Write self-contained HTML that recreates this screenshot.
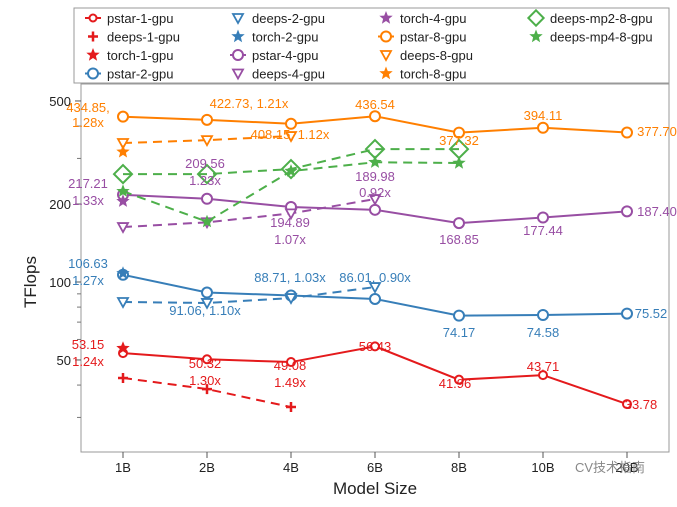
<!DOCTYPE html>
<html><head><meta charset="utf-8"><style>
body{margin:0;background:#fff;}
svg{font-family:"Liberation Sans",sans-serif;}
</style></head><body>
<svg id="chart" width="677" height="502" viewBox="0 0 677 502" xmlns="http://www.w3.org/2000/svg">
<rect x="81" y="84" width="588" height="368" fill="none" stroke="#999" stroke-width="1"/>
<g id="axes"></g><g id="series"></g><g id="labels"></g>
<text x="375" y="494" font-size="17" text-anchor="middle" fill="#222">Model Size</text>
<text transform="translate(36,282) rotate(-90)" font-size="17" text-anchor="middle" fill="#222">TFlops</text>
<g>
<rect x="74" y="8" width="595" height="75" fill="#fff" stroke="#999"/>
<g id="legend"></g>
</g>
<text x="575" y="472" font-size="13" fill="#888">CV技术指南</text>
</svg>
<script>
const categories=["1B","2B","4B","6B","8B","10B","20B"];
const yTicksMajor=[50,100,200,500];
const yTicksMinor=[30,40,60,70,80,90,300,400];
const pstar1=[53.15,50.32,49.08,56.43,41.96,43.71,33.78];
const deeps1=[42.6,38.6,32.9];
const torch1=[55.5];
const pstar2=[106.63,91.06,88.71,86.01,74.17,74.58,75.52];
const deeps2=[83.7,83,86.7,95.6];
const torch2=[108];
const pstar4=[217.21,209.56,194.89,189.98,168.85,177.44,187.40];
const deeps4=[163,170,184,209];
const torch4=[205];
const pstar8=[434.85,422.73,408.15,436.54,377.32,394.11,377.70];
const deeps8=[344,353,366];
const torch8=[318];
const mp2=[261,261,273,326,326];
const mp4=[224,171,268,290,288];
const NS="http://www.w3.org/2000/svg";
function x(i){return 123+i*84;}
function y(v){return 282-259*Math.log10(v/100);}
function mk(tag,attrs,parent){const e=document.createElementNS(NS,tag);for(const k in attrs)e.setAttribute(k,attrs[k]);parent.appendChild(e);return e;}
const axes=document.getElementById('axes');
yTicksMajor.forEach(v=>{
 const t=mk('line',{x1:75,x2:81,y1:y(v),y2:y(v),stroke:'#555'},axes);
 
 
 const l=mk('text',{x:71,y:y(v)+5,'font-size':13,'text-anchor':'end',fill:'#222'},axes);l.textContent=v;
 
 
});
yTicksMinor.forEach(v=>{
 const t=mk('line',{x1:77,x2:81,y1:y(v),y2:y(v),stroke:'#777'},axes);
 
 
});
categories.forEach((c,i)=>{
 const t=mk('line',{x1:x(i),x2:x(i),y1:452,y2:458,stroke:'#555'},axes);
 
 
 const l=mk('text',{x:x(i),y:472,'font-size':13,'text-anchor':'middle',fill:'#222'},axes);l.textContent=c;
 
 
});
function marker(type,cx,cy,color,g,s){
 s=s||1;
 if(type==='o')return mk('circle',{cx:cx,cy:cy,r:5*s,fill:'#fff',stroke:color,'stroke-width':2},g);
 if(type==='+')return mk('path',{d:`M${cx-5*s} ${cy}H${cx+5*s}M${cx} ${cy-5*s}V${cy+5*s}`,stroke:color,'stroke-width':2.5},g);
 if(type==='v')return mk('path',{d:`M${cx-5*s} ${cy-4*s}L${cx+5*s} ${cy-4*s}L${cx} ${cy+5*s}Z`,fill:'#fff',stroke:color,'stroke-width':1.8},g);
 if(type==='d')return mk('path',{d:`M${cx} ${cy-9*s}L${cx+9*s} ${cy}L${cx} ${cy+9*s}L${cx-9*s} ${cy}Z`,fill:'none',stroke:color,'stroke-width':2},g);
 if(type==='*'){let p='';for(let k=0;k<10;k++){const r=k%2?3*s:7*s;const a=-Math.PI/2+k*Math.PI/5;p+=(k?'L':'M')+(cx+r*Math.cos(a)).toFixed(1)+' '+(cy+r*Math.sin(a)).toFixed(1);}return mk('path',{d:p+'Z',fill:color},g);}
}
const R='#e41a1c',B='#377eb8',P='#984ea3',O='#ff7f00',G='#4daf4a';
const series=[
 {n:'pstar-1-gpu',d:pstar1,c:R,m:'o',dash:false,s:0.8},
 {n:'deeps-1-gpu',d:deeps1,c:R,m:'+',dash:true},
 {n:'torch-1-gpu',d:torch1,c:R,m:'*',dash:false},
 {n:'pstar-2-gpu',d:pstar2,c:B,m:'o',dash:false},
 {n:'deeps-2-gpu',d:deeps2,c:B,m:'v',dash:true},
 {n:'torch-2-gpu',d:torch2,c:B,m:'*',dash:false},
 {n:'pstar-4-gpu',d:pstar4,c:P,m:'o',dash:false},
 {n:'deeps-4-gpu',d:deeps4,c:P,m:'v',dash:true},
 {n:'torch-4-gpu',d:torch4,c:P,m:'*',dash:false},
 {n:'pstar-8-gpu',d:pstar8,c:O,m:'o',dash:false},
 {n:'deeps-8-gpu',d:deeps8,c:O,m:'v',dash:true},
 {n:'torch-8-gpu',d:torch8,c:O,m:'*',dash:false},
 {n:'deeps-mp2-8-gpu',d:mp2,c:G,m:'d',dash:true},
 {n:'deeps-mp4-8-gpu',d:mp4,c:G,m:'*',dash:true}
];
const sg=document.getElementById('series');
series.forEach(s=>{
 const g=mk('g',{},sg);
 
 
 if(s.d.length>1){
  const pl=mk('polyline',{points:s.d.map((v,i)=>x(i)+','+y(v)).join(' '),fill:'none',stroke:s.c,'stroke-width':2,'stroke-dasharray':s.dash?'9,6':'none'},g);
  
  
 }
 s.d.forEach((v,i)=>{
  const m=marker(s.m,x(i),y(v),s.c,g,s.s);
  
  
 });
});
const lg=document.getElementById('legend');
const cols=[93,238,386,536];
series.forEach((s,k)=>{
 const col=Math.floor(k/4),row=k%4;
 const cx=cols[col],cy=18+row*18.5;
 const g=mk('g',{},lg);
 
 
 if(s.m==='o')mk('line',{x1:cx-8,x2:cx+8,y1:cy,y2:cy,stroke:s.c,'stroke-width':2},g);
 marker(s.m,cx,cy,s.c,g,s.m==='d'?0.85:(s.m==='o'&&k===0?0.7:1));
 const t=mk('text',{x:cx+14,y:cy+5,'font-size':13,fill:'#222'},g);t.textContent=s.n;
});
const labelText=[
 [R,[["53.15",88,349],["1.24x",88,366],["50.32",205,368],["1.30x",205,385],["49.08",290,370],["1.49x",290,387],["56.43",375,351],["41.96",455,388],["43.71",543,371],["33.78",641,409]]],
 [B,[["106.63",88,268],["1.27x",88,285],["91.06, 1.10x",205,315],["88.71, 1.03x",290,282],["86.01, 0.90x",375,282],["74.17",459,337],["74.58",543,337],["75.52",651,318]]],
 [P,[["217.21",88,188],["1.33x",88,205],["209.56",205,168],["1.23x",205,185],["194.89",290,227],["1.07x",290,244],["189.98",375,181],["0.92x",375,197],["168.85",459,244],["177.44",543,235],["187.40",657,216]]],
 [O,[["434.85,",88,112],["1.28x",88,127],["422.73, 1.21x",249,108],["408.15, 1.12x",290,139],["436.54",375,109],["377.32",459,145],["394.11",543,120],["377.70",657,136]]]
];
const lbl=document.getElementById('labels');
labelText.forEach(([c,arr])=>arr.forEach(([t,lx,ly])=>{
 const e=mk('text',{x:lx,y:ly,'font-size':13,'text-anchor':'middle',fill:c},lbl);e.textContent=t;
 
 
}));
</script>
</body></html>
